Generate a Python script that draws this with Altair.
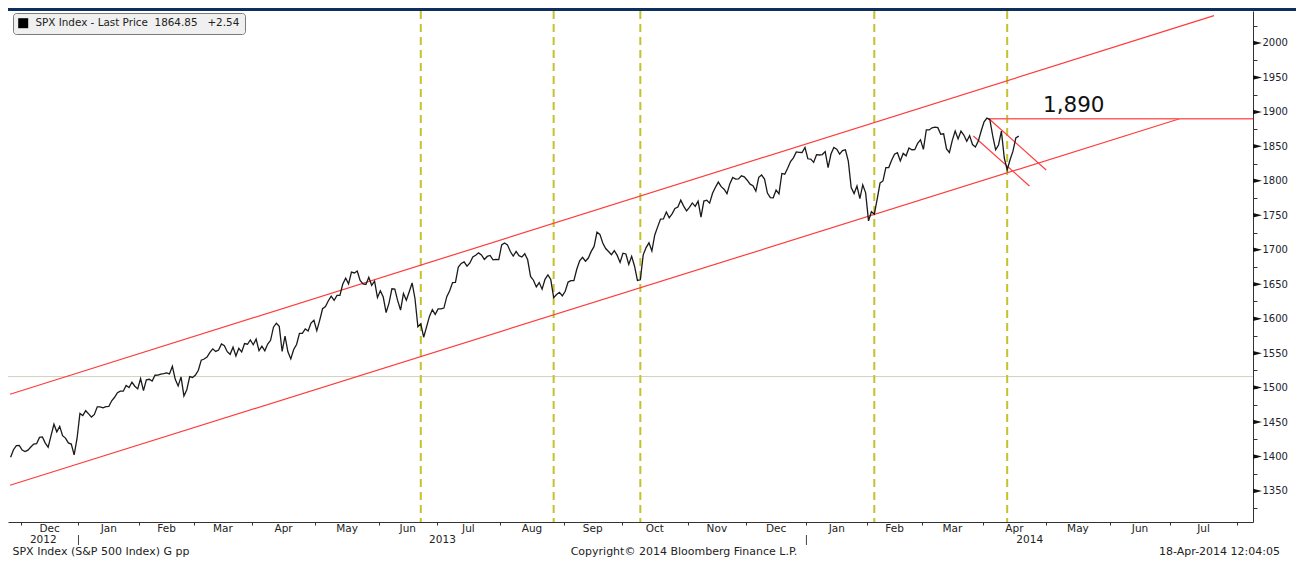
import altair as alt
import pandas as pd

# ---------------- data (daily closes, one per trading day) ----------------
nov_2012 = [1398.9, 1409.9, 1415.9, 1416.2]
dec_2012 = [1409.5, 1407.1, 1409.3, 1413.9, 1418.1, 1418.6, 1427.8, 1428.5, 1419.5, 1413.6,
            1430.4, 1446.8, 1435.8, 1443.7, 1430.2, 1426.7, 1419.8, 1418.1, 1402.4, 1426.2]
jan_2013 = [1462.4, 1459.4, 1466.5, 1461.9, 1457.2, 1461.0, 1472.1, 1472.1, 1470.7, 1472.3,
            1472.6, 1480.9, 1486.0, 1492.6, 1494.8, 1494.8, 1503.0, 1500.2, 1507.8, 1502.0, 1498.1]
feb_2013 = [1513.2, 1495.7, 1511.3, 1512.1, 1509.4, 1517.9, 1518.0, 1519.4, 1520.3, 1521.4,
            1519.8, 1530.9, 1512.0, 1502.4, 1515.6, 1487.9, 1496.9, 1516.0, 1514.7]
mar_2013 = [1518.2, 1525.2, 1539.8, 1541.5, 1544.3, 1551.2, 1556.2, 1552.5, 1554.5, 1563.2,
            1560.7, 1552.1, 1548.3, 1558.7, 1545.8, 1556.9, 1551.7, 1563.8, 1562.9, 1569.2]
apr_2013 = [1562.2, 1570.3, 1553.7, 1560.0, 1553.3, 1563.1, 1568.6, 1587.7, 1593.4, 1588.9,
            1552.4, 1574.6, 1552.0, 1541.6, 1555.3, 1562.5, 1578.8, 1578.8, 1585.2, 1582.2,
            1593.6, 1597.6]
may_2013 = [1582.7, 1597.6, 1614.4, 1617.5, 1626.0, 1632.7, 1626.7, 1633.7, 1633.8, 1650.3,
            1658.8, 1650.5, 1667.5, 1666.3, 1669.2, 1655.4, 1650.5, 1649.6, 1660.1, 1648.4,
            1654.4, 1630.7]
jun_2013 = [1640.4, 1631.4, 1608.9, 1622.6, 1643.4, 1642.8, 1626.1, 1612.5, 1636.4, 1626.7,
            1639.0, 1651.8, 1628.9, 1588.2, 1592.4, 1573.1, 1588.0, 1603.3, 1613.2, 1606.3]
jul_2013 = [1614.1, 1614.1, 1615.4, 1631.9, 1640.5, 1652.3, 1652.6, 1675.0, 1680.2, 1682.5,
            1676.3, 1680.9, 1689.4, 1692.1, 1695.5, 1692.4, 1685.9, 1690.3, 1691.7, 1685.3,
            1686.0, 1685.7]
aug_2013 = [1706.9, 1709.7, 1707.1, 1697.4, 1690.9, 1697.5, 1691.4, 1689.5, 1694.2, 1685.4,
            1661.3, 1655.8, 1646.1, 1652.4, 1642.8, 1657.0, 1663.5, 1656.8, 1630.5, 1635.0,
            1638.2, 1633.0]
sep_2013 = [1639.8, 1653.1, 1655.1, 1655.2, 1671.7, 1684.0, 1689.1, 1683.4, 1688.0, 1697.6,
            1704.8, 1725.5, 1722.3, 1709.9, 1701.8, 1697.4, 1692.8, 1698.7, 1691.8, 1681.6]
oct_2013 = [1695.0, 1693.9, 1678.7, 1690.5, 1676.1, 1655.5, 1656.4, 1692.6, 1703.2, 1710.1,
            1698.1, 1721.5, 1733.2, 1744.5, 1744.7, 1754.7, 1746.4, 1752.1, 1759.8, 1762.1,
            1772.0, 1763.3, 1756.5]
nov_2013 = [1761.6, 1767.9, 1763.0, 1770.5, 1747.2, 1770.6, 1771.9, 1767.7, 1782.0, 1790.6,
            1798.2, 1791.5, 1787.9, 1781.4, 1795.9, 1804.8, 1802.5, 1802.8, 1807.2, 1805.8]
dec_2013 = [1800.9, 1795.2, 1792.8, 1785.0, 1805.1, 1808.4, 1802.6, 1782.2, 1775.5, 1775.3,
            1786.5, 1781.0, 1810.7, 1809.6, 1818.3, 1828.0, 1833.3, 1842.0, 1841.4, 1841.1, 1848.4]
jan_2014 = [1832.0, 1831.4, 1826.8, 1837.9, 1837.5, 1838.1, 1842.4, 1819.2, 1838.9, 1848.4,
            1845.9, 1838.7, 1843.8, 1844.9, 1828.5, 1790.3, 1781.6, 1792.5, 1774.2, 1794.2, 1782.6]
feb_2014 = [1741.9, 1755.2, 1751.6, 1773.4, 1797.0, 1799.8, 1819.3, 1819.3, 1829.8, 1838.6,
            1840.8, 1828.8, 1839.8, 1836.3, 1847.6, 1845.1, 1845.2, 1854.3, 1859.5]
mar_2014 = [1845.7, 1873.9, 1873.8, 1877.0, 1878.0, 1877.2, 1867.6, 1868.2, 1846.3, 1841.1,
            1858.8, 1872.3, 1860.8, 1872.0, 1866.5, 1857.4, 1865.6, 1852.6, 1849.0, 1857.6, 1872.3]
apr_2014 = [1885.5, 1890.9, 1888.8, 1865.1, 1845.0, 1852.0, 1872.2, 1833.1, 1815.7, 1830.6,
            1843.0, 1862.3, 1864.85]

series_name = "SPX Index - Last Price\u00a0\u00a01864.85\u00a0\u00a0\u00a0+2.54"

# x axis: trading-day index; month boundaries and labels
month_boundaries = [3.5, 23.5, 44.5, 63.5, 83.5, 105.5, 127.5, 147.5, 169.5, 191.5, 211.5,
                    234.5, 254.5, 275.5, 296.5, 315.5, 336.5, 358.5, 380.5, 401.5, 424.5]
month_names = ["Dec", "Jan", "Feb", "Mar", "Apr", "May", "Jun", "Jul", "Aug", "Sep", "Oct",
               "Nov", "Dec", "Jan", "Feb", "Mar", "Apr", "May", "Jun", "Jul"]
year_names = ["2012", "2013", "2014"]
year_centers = [11.3, 149.5, 352.8]
year_breaks = [23.5, 275.5]
x_domain = [-0.9, 430.1]

# y axis
y_domain = [1305.0, 2046.4]
y_major = list(range(1350, 2001, 50))
y_all = list(range(1325, 2026, 25))

# annotations
event_days = [142, 188, 218, 299, 345]
upper_x = [-0.2, 416.6]
upper_y = [1490.3, 2039.6]
lower_x = [-0.2, 404.7]
lower_y = [1358.3, 1890.0]
resist_x = [338.4, 430.1]
resist_y = [1890.0, 1890.0]
flag_a_x = [338.5, 358.5]
flag_a_y = [1890.7, 1815.7]
flag_b_x = [333.3, 352.7]
flag_b_y = [1865.1, 1792.5]
ref_level = [1516]
label_1890 = {"x": [357.4], "y": [1900], "t": ["1,890"]}

footer_left = "SPX Index (S&P 500 Index) G pp"
footer_mid = "Copyright\u00a9 2014 Bloomberg Finance L.P."
footer_right = "18-Apr-2014 12:04:05"

# ---------------- build ----------------
FONT = "DejaVu Sans"
W, H = 1245, 511

closes = (nov_2012 + dec_2012 + jan_2013 + feb_2013 + mar_2013 + apr_2013 + may_2013 +
          jun_2013 + jul_2013 + aug_2013 + sep_2013 + oct_2013 + nov_2013 + dec_2013 +
          jan_2014 + feb_2014 + mar_2014 + apr_2014)
spx = pd.DataFrame({"idx": list(range(len(closes))), "v": closes, "series": series_name})

xscale = alt.Scale(domain=x_domain, nice=False, zero=False)
yscale = alt.Scale(domain=y_domain, nice=False, zero=False)
xaxis = alt.Axis(values=month_boundaries, labels=False, ticks=True, tickSize=3,
                 tickColor="#333333", domainColor="#333333", grid=False, title=None,
                 orient="bottom")
yaxis = alt.Axis(orient="right", values=y_all, tickSize=4, tickColor="#333333",
                 domainColor="#333333", grid=False, title=None, labelPadding=5,
                 labelFont=FONT, labelFontSize=10, labelColor="#22222e",
                 labelExpr="datum.value % 50 == 0 ? datum.value : ''",
                 labelOverlap=False, labelFlush=False, labelBound=False)


def X(f):
    return alt.X(f, type="quantitative", scale=xscale, axis=xaxis)


def Y(f):
    return alt.Y(f, type="quantitative", scale=yscale, axis=yaxis)


def seg(xs, ys):
    return pd.DataFrame({"x": xs, "y": ys})


one = pd.DataFrame({"k": [0]})

ref = alt.Chart(pd.DataFrame({"y": ref_level})).mark_rule(
    color="#d2d2c0", strokeWidth=1).encode(y=Y("y"))

events = alt.Chart(pd.DataFrame({"x": event_days})).mark_rule(
    color="#c4c22e", strokeWidth=2, strokeDash=[8, 5]).encode(x=X("x"))

red_layers = []
for xs, ys, w, c in [(upper_x, upper_y, 1.2, "#ff3b3b"), (lower_x, lower_y, 1.2, "#ff3b3b"),
                     (resist_x, resist_y, 1.6, "#ff6060"), (flag_a_x, flag_a_y, 1.2, "#ff3b3b"),
                     (flag_b_x, flag_b_y, 1.2, "#ff3b3b")]:
    red_layers.append(alt.Chart(seg(xs, ys)).mark_line(color=c, strokeWidth=w).encode(
        x=X("x"), y=Y("y"), order="x:Q"))

line = alt.Chart(spx).mark_line(strokeWidth=1.3).encode(
    x=X("idx"), y=Y("v"),
    color=alt.Color("series:N", scale=alt.Scale(range=["#1a1a1a"]),
                    legend=alt.Legend(orient="none", legendX=5, legendY=2, title=None,
                                      symbolType="square", symbolSize=100,
                                      symbolFillColor="#000000", symbolStrokeWidth=0,
                                      labelFont=FONT, labelFontSize=10.4, labelColor="#222222",
                                      labelLimit=500, labelOffset=7, padding=5,
                                      fillColor="#f0f0f0", strokeColor="#7a7a7a",
                                      cornerRadius=3)))

label = alt.Chart(pd.DataFrame(label_1890)).mark_text(
    font=FONT, fontSize=21.5, align="left", baseline="alphabetic", color="#111111").encode(
    x=X("x"), y=Y("y"), text="t:N")

tri = alt.Chart(pd.DataFrame({"v": y_major})).mark_point(
    shape="M-1,-0.5L1,0L-1,0.5Z", filled=True, size=81, color="#111111", opacity=1).encode(
    x=alt.value(W + 4.5), y=Y("v"))

mids = [(a + b) / 2 for a, b in zip(month_boundaries[:-1], month_boundaries[1:])]
months = alt.Chart(pd.DataFrame({"x": mids, "t": month_names})).mark_text(
    font=FONT, fontSize=10.5, align="center", baseline="alphabetic", color="#222222").encode(
    x=X("x"), y=alt.value(H + 10), text="t:N")

years = alt.Chart(pd.DataFrame({"x": year_centers, "t": year_names})).mark_text(
    font=FONT, fontSize=10.5, align="center", baseline="alphabetic", color="#222222").encode(
    x=X("x"), y=alt.value(H + 21), text="t:N")

ybreaks = alt.Chart(pd.DataFrame({"x": year_breaks})).mark_rule(
    color="#444444", strokeWidth=1).encode(x=X("x"), y=alt.value(H + 13), y2=alt.value(H + 23))

navy = alt.Chart(one).mark_rule(color="#0e2f5e", strokeWidth=3).encode(
    x=alt.value(0), x2=alt.value(1288), y=alt.value(-1.5))


def footer(text, xpos, align):
    return alt.Chart(pd.DataFrame({"t": [text]})).mark_text(
        font=FONT, fontSize=11, align=align, baseline="alphabetic", color="#222222").encode(
        x=alt.value(xpos), y=alt.value(H + 32.5), text="t:N")


chart = alt.layer(
    ref, events, *red_layers, line, label, tri, months, years, ybreaks, navy,
    footer(footer_left, 4.5, "left"), footer(footer_mid, 676, "center"),
    footer(footer_right, 1272, "right"),
).properties(
    width=W, height=H,
    padding={"left": 0, "top": 3, "right": 43, "bottom": 36},
    autosize=alt.AutoSizeParams(type="none"),
    background="white",
).configure_view(stroke=None)

chart.save("out.html", embed_options={"renderer": "svg", "actions": False})
